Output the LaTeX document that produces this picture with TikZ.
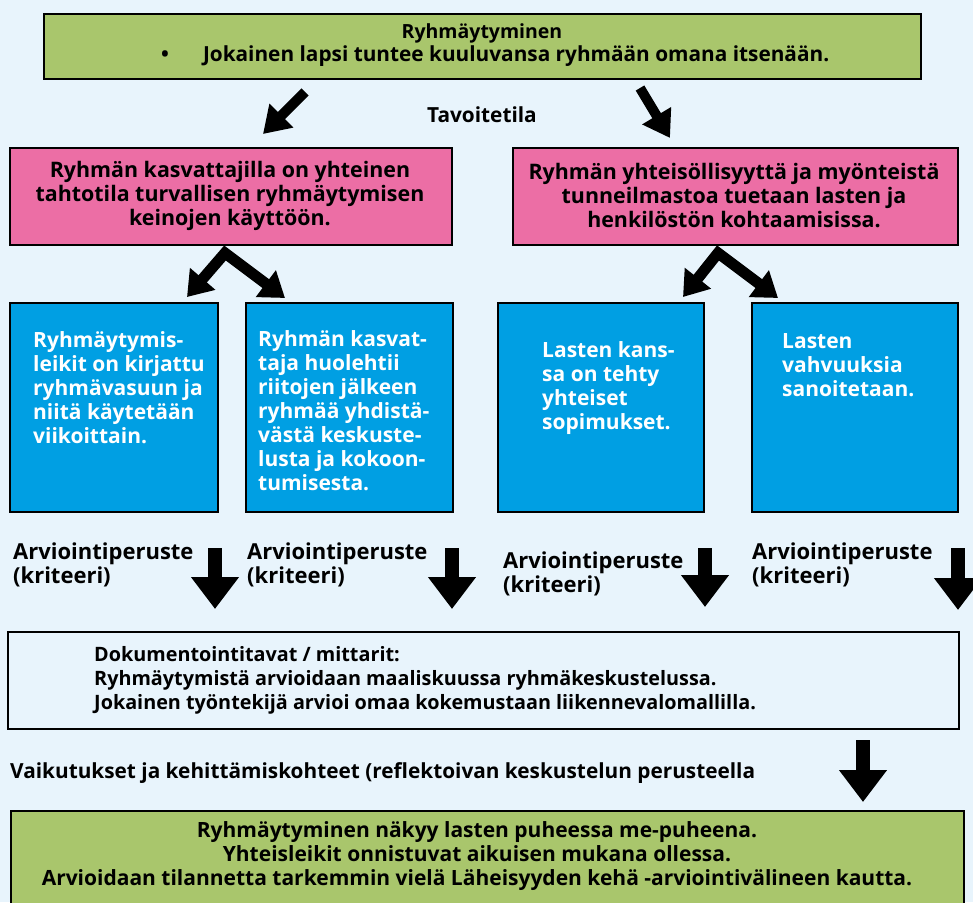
\documentclass[tikz,border=0pt]{standalone}
\usepackage{fontspec}
\setmainfont{Open Sans}
\usetikzlibrary{arrows.meta, positioning, calc}

\definecolor{bgblue}{HTML}{E8F4FC}
\definecolor{leafgreen}{HTML}{A9C66C}
\definecolor{rose}{HTML}{EC6EA5}
\definecolor{sky}{HTML}{009FE3}
\newcommand\boldsize[1]{\fontsize{#1}{24}\selectfont\bfseries}

\begin{document}
\begin{tikzpicture}[x=1pt, y=-1pt,
    font=\boldsize{20.8},
    greenbox/.style={draw, line width=2pt, fill=leafgreen, anchor=north west, inner sep=0pt},
    pinkbox/.style={draw, line width=2pt, fill=rose, anchor=north west, inner sep=0pt},
    bluebox/.style={draw, line width=2pt, fill=sky, anchor=north west, inner sep=0pt},
    docbox/.style={draw, line width=2pt, anchor=north west, inner sep=0pt},
    bluetext/.style={anchor=north west, align=left, text=white, inner sep=0pt, font=\boldsize{21}},
    crit/.style={anchor=north west, align=left, inner sep=0pt, font=\boldsize{22}},
    slimarrow/.style={line width=10pt, -{Triangle[length=26pt, width=32pt]}},
    twinarrow/.style={line width=11pt, line join=miter, {Triangle[length=24pt, width=32pt]}-{Triangle[length=24pt, width=32pt]}},
    fatarrow/.style={line width=14pt, -{Triangle[length=32pt, width=46pt]}}
]
\fill[bgblue] (0,0) rectangle (973,902);
\useasboundingbox (0,0) rectangle (973,902);

% Goal
\node[greenbox, minimum width=877pt, minimum height=65pt] (goal) at (43,13) {};
\node[font=\boldsize{19.5}] (goalhead) at (482,33) {Ryhmäytyminen};
\node[anchor=west, inner sep=0pt] (goalline) at (161,56) {\textbullet\hspace{34pt}Jokainen lapsi tuntee kuuluvansa ryhmään omana itsenään.};

\node (aim) at (482,115) {Tavoitetila};

% Target states
\node[pinkbox, minimum width=442pt, minimum height=97pt] (p1) at (9,147) {};
\node[align=center, font=\boldsize{21.4}] (p1txt) at (230,196) {Ryhmän kasvattajilla on yhteinen\\tahtotila turvallisen ryhmäytymisen\\keinojen käyttöön.};
\node[pinkbox, minimum width=445pt, minimum height=97pt] (p2) at (512,147) {};
\node[align=center, font=\boldsize{21.4}] (p2txt) at (734,196) {Ryhmän yhteisöllisyyttä ja myönteistä\\tunneilmastoa tuetaan lasten ja\\henkilöstön kohtaamisissa.};

\coordinate (g1) at (305,92);
\coordinate (g1end) at (263,134);
\coordinate (g2) at (640,88);
\coordinate (g2end) at (670,138);
\draw[slimarrow] (g1) -- (g1end);
\draw[slimarrow] (g2) -- (g2end);

% Actions
\node[bluebox, minimum width=208pt, minimum height=209pt] (b1) at (9,302) {};
\node[bluetext] (b1txt) at (33,331) {Ryhmäytymis-\\leikit on kirjattu\\ryhmävasuun ja\\niitä käytetään\\viikoittain.};
\node[bluebox, minimum width=207pt, minimum height=209pt] (b2) at (245,302) {};
\node[bluetext] (b2txt) at (258,330) {Ryhmän kasvat-\\taja huolehtii\\riitojen jälkeen\\ryhmää yhdistä-\\västä keskuste-\\lusta ja kokoon-\\tumisesta.};
\node[bluebox, minimum width=206pt, minimum height=209pt] (b3) at (497,302) {};
\node[bluetext] (b3txt) at (542,341) {Lasten kans-\\sa on tehty\\yhteiset\\sopimukset.};
\node[bluebox, minimum width=206pt, minimum height=209pt] (b4) at (751,302) {};
\node[bluetext] (b4txt) at (782,333) {Lasten\\vahvuuksia\\sanoitetaan.};

\coordinate (c1l) at (187,297);
\coordinate (c1top) at (225,253);
\coordinate (c1r) at (285,298);
\coordinate (c2l) at (683,297);
\coordinate (c2top) at (718,253);
\coordinate (c2r) at (778,298);
\draw[twinarrow] (c1l) -- (c1top) -- (c1r);
\draw[twinarrow] (c2l) -- (c2top) -- (c2r);

% Criteria
\node[crit] (k1) at (13,543) {Arviointiperuste\\(kriteeri)};
\node[crit] (k2) at (247,543) {Arviointiperuste\\(kriteeri)};
\node[crit] (k3) at (503,552) {Arviointiperuste\\(kriteeri)};
\node[crit] (k4) at (752,543) {Arviointiperuste\\(kriteeri)};
\coordinate (d1) at (215,548);
\coordinate (d2) at (452,548);
\coordinate (d3) at (705,548);
\coordinate (d4) at (958,548);
\draw[fatarrow] (d1) -- (215,609);
\draw[fatarrow] (d2) -- (452,609);
\draw[fatarrow] (d3) -- (705,607);
\draw[fatarrow] (d4) -- (958,610);

% Documentation
\node[docbox, minimum width=951pt, minimum height=97pt] (doc) at (7,631) {};
\node[anchor=north west, align=left, inner sep=0pt, font=\boldsize{19.8}] (doctxt) at (94,646) {Dokumentointitavat / mittarit:\\Ryhmäytymistä arvioidaan maaliskuussa ryhmäkeskustelussa.\\Jokainen työntekijä arvioi omaa kokemustaan liikennevalomallilla.};

\node[anchor=west, inner sep=0pt] (effect) at (10,773) {Vaikutukset ja kehittämiskohteet (reflektoivan keskustelun perusteella};
\coordinate (e1) at (863,740);
\coordinate (e1end) at (863,802);
\draw[fatarrow] (e1) -- (e1end);

% Outcome
\node[greenbox, minimum width=953pt, minimum height=110pt] (result) at (10,810) {};
\node[align=center, font=\boldsize{21}] (resulttxt) at (477,856) {Ryhmäytyminen näkyy lasten puheessa me-puheena.\\Yhteisleikit onnistuvat aikuisen mukana ollessa.\\Arvioidaan tilannetta tarkemmin vielä Läheisyyden kehä -arviointivälineen kautta.};
\end{tikzpicture}
\end{document}
